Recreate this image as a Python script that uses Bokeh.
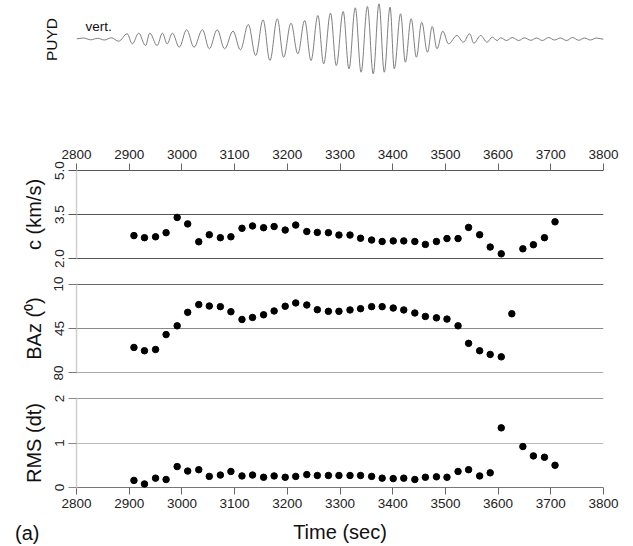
import numpy as np
from bokeh.plotting import figure
from bokeh.layouts import column
from bokeh.models import Range1d, FixedTicker, Label, PrintfTickFormatter
from bokeh.embed import file_html
from bokeh.resources import INLINE

# ---------------- data ----------------
nan = float("nan")

times = [2909, 2929, 2950, 2970, 2991, 3011, 3032, 3052, 3073, 3093,
         3114, 3134, 3155, 3175, 3196, 3216, 3237, 3257, 3278, 3298,
         3319, 3339, 3360, 3380, 3401, 3421, 3442, 3462, 3483, 3503,
         3524, 3544, 3565, 3585, 3606, 3626, 3647, 3667, 3688, 3708]

c_kms = [2.78, 2.71, 2.74, 2.88, 3.40, 3.18, 2.57, 2.81, 2.71, 2.74,
         3.03, 3.11, 3.05, 3.09, 2.97, 3.14, 2.92, 2.89, 2.88, 2.80,
         2.80, 2.69, 2.63, 2.58, 2.60, 2.60, 2.58, 2.48, 2.58, 2.68,
         2.68, 3.06, 2.81, 2.39, 2.16, nan, 2.33, 2.47, 2.71, 3.25]

baz_deg = [59.9, 62.5, 61.5, 49.8, 42.9, 32.3, 26.2, 27.3, 27.8, 31.8,
           37.9, 36.3, 34.2, 31.2, 27.5, 24.9, 26.5, 30.2, 31.5, 31.5,
           30.4, 29.4, 27.8, 27.8, 28.9, 30.4, 32.8, 35.5, 36.6, 37.6,
           42.9, 56.7, 62.5, 65.4, 67.3, 33.4, nan, nan, nan, nan]

rms_dt = [0.16, 0.08, 0.21, 0.18, 0.47, 0.37, 0.40, 0.25, 0.28, 0.36,
          0.26, 0.28, 0.23, 0.26, 0.23, 0.25, 0.29, 0.27, 0.27, 0.27,
          0.27, 0.27, 0.25, 0.21, 0.20, 0.21, 0.18, 0.23, 0.24, 0.23,
          0.36, 0.40, 0.26, 0.33, 1.34, nan, 0.92, 0.71, 0.68, 0.50]

# seismogram (PUYD, vertical): successive extrema (time, amplitude)
wave_t = [2800, 2813, 2827, 2840, 2853, 2866, 2880, 2896, 2906, 2918,
          2931, 2939, 2953, 2963, 2972, 2982, 2995, 3009, 3023, 3039,
          3052, 3067, 3081, 3097, 3111, 3126, 3140, 3154, 3167, 3181,
          3193, 3207, 3220, 3233, 3245, 3258, 3269, 3282, 3293, 3306,
          3317, 3329, 3340, 3352, 3363, 3374, 3384, 3395, 3403, 3415,
          3424, 3435, 3445, 3455, 3466, 3475, 3484, 3495, 3506, 3522,
          3534, 3546, 3554, 3567, 3579, 3589, 3598, 3605, 3616, 3627,
          3639, 3650, 3662, 3673, 3684, 3696, 3707, 3718, 3730, 3741,
          3753, 3764, 3775, 3787, 3800]
wave_a = [0.2, 1.0, -0.8, 0.7, -1.0, 1.2, -2.2, 5.2, -4.8, 5.8,
          -6.5, 5.8, -6.5, 5.8, -4.8, 5.8, -8.2, 9.2, -8.2, 9.2,
          -9.8, 9.2, -9.8, 7.8, -10.8, 14.5, -16.5, 19.2, -21.5, 20.2,
          -18.2, 15.8, -14.8, 18.5, -21.5, 23.5, -24.8, 25.8, -26.5, 27.5,
          -29.8, 31.2, -33.2, 32.5, -34.8, 35.2, -33.2, 31.8, -29.8, 25.2,
          -23.2, 20.2, -18.2, 16.8, -13.2, 12.5, -9.8, 7.8, -4.8, 3.5,
          -3.2, 5.2, -4.2, 3.5, -3.2, 1.8, -1.5, 1.2, -1.5, 1.5,
          -1.5, 1.2, -1.3, 1.0, -1.5, 1.5, -1.0, 1.0, -1.5, 1.5,
          -1.3, 1.0, -1.0, 1.0, -0.3]

x_ticks = [2800, 2900, 3000, 3100, 3200, 3300, 3400, 3500, 3600, 3700, 3800]
c_ticks = [2.0, 3.5, 5.0]
baz_ticks = [10, 45, 80]
rms_ticks = [0, 1, 2]

c_line_colors = ["#555555", "#555555", "#555555"]
baz_line_colors = ["#666666", "#8a8a8a", "#aaaaaa"]
rms_line_colors = ["#777777", "#bbbbbb", "#999999"]

# ---------------- styling ----------------
FONT = "Liberation Sans"
W = 633
LEFT = 76
RIGHT = 30
FRAME_W = W - LEFT - RIGHT
TICK_FS = "13.5px"
TITLE_FS = "20px"


def base(height, top, bottom, y_range, **kw):
    p = figure(width=W, height=height, x_range=Range1d(2800, 3800),
               y_range=y_range, output_backend="svg", toolbar_location=None,
               min_border_left=LEFT, min_border_right=RIGHT,
               min_border_top=top, min_border_bottom=bottom, **kw)
    p.outline_line_color = None
    p.background_fill_color = "white"
    p.border_fill_color = "white"
    for g in p.grid:
        g.visible = False
    return p


def bare_left_axis(p, text, size, standoff):
    ax = p.yaxis[0]
    ax.ticker = FixedTicker(ticks=[])
    ax.major_tick_out = 0
    ax.major_tick_in = 0
    ax.minor_tick_out = 0
    ax.minor_tick_in = 0
    ax.major_label_standoff = 0
    ax.axis_line_color = None
    ax.axis_label = text
    ax.axis_label_text_font = FONT
    ax.axis_label_text_font_size = size
    ax.axis_label_text_font_style = "normal"
    ax.axis_label_text_color = "#111111"
    ax.axis_label_standoff = standoff
    return ax


def style_y(p, ticks, title, tick_color):
    ax = p.yaxis[0]
    ax.ticker = FixedTicker(ticks=ticks)
    ax.major_label_orientation = "vertical"
    ax.major_label_text_font = FONT
    ax.major_label_text_font_size = TICK_FS
    ax.major_label_text_color = "#222222"
    ax.major_label_standoff = 5
    ax.major_tick_out = 8
    ax.major_tick_in = 0
    ax.minor_tick_out = 0
    ax.minor_tick_in = 0
    ax.major_tick_line_color = tick_color
    ax.axis_line_color = "#cfcfcf"
    ax.axis_line_width = 1.5
    ax.axis_label = title
    ax.axis_label_text_font = FONT
    ax.axis_label_text_font_size = TITLE_FS
    ax.axis_label_text_font_style = "normal"
    ax.axis_label_text_color = "#111111"
    ax.axis_label_standoff = 7


def style_x(ax):
    ax.ticker = FixedTicker(ticks=x_ticks)
    ax.major_label_text_font = FONT
    ax.major_label_text_font_size = TICK_FS
    ax.major_label_text_color = "#222222"
    ax.major_tick_out = 6
    ax.major_tick_in = 1
    ax.minor_tick_out = 0
    ax.minor_tick_in = 0
    ax.major_tick_line_color = "#666666"
    ax.axis_line_color = None


# ---------------- seismogram ----------------
pw = base(100, 0, 22, Range1d(-39.5, 38.5), x_axis_location=None)
bare_left_axis(pw, "PUYD", "15.5px", 17)
t = np.array(wave_t, dtype=float)
a = np.array(wave_a, dtype=float)
k = 0.3642
dx = t[1:] - t[:-1]
pw.bezier(x0=t[:-1], y0=a[:-1], x1=t[1:], y1=a[1:],
          cx0=t[:-1] + k * dx, cy0=a[:-1], cx1=t[1:] - k * dx, cy1=a[1:],
          line_color="#707070", line_width=0.9)
pw.add_layout(Label(x=9, y=52.5, x_units="screen", y_units="screen", text="vert.",
                    text_align="left", text_baseline="alphabetic",
                    text_font=FONT, text_font_size="13.5px", text_color="#111111"))

# ---------------- c panel ----------------
cpad = 3.0 / 88
pc = base(171, 69, 12, Range1d(2.0 - cpad, 5.0 + cpad), x_axis_location="above")
style_y(pc, c_ticks, "c (km/s)", "#555555")
pc.yaxis[0].formatter = PrintfTickFormatter(format="%.1f")
style_x(pc.xaxis[0])
pc.xaxis[0].major_label_standoff = 5
pc.hspan(y=c_ticks, line_color=c_line_colors, line_width=1)
pc.scatter(times, c_kms, size=6.5, color="black")

# ---------------- BAz panel ----------------
bpad = 35.0 / 88
pb = base(114, 12, 12, Range1d(80 + bpad, 10 - bpad), x_axis_location=None)
style_y(pb, baz_ticks, "BAz (\u2070)", "#777777")
pb.hspan(y=baz_ticks, line_color=baz_line_colors, line_width=1)
pb.scatter(times, baz_deg, size=6.5, color="black")

# ---------------- RMS panel ----------------
rpad = 2.0 / 89
pr = base(133, 12, 30, Range1d(0 - rpad, 2 + rpad))
style_y(pr, rms_ticks, "RMS (dt)", "#888888")
style_x(pr.xaxis[0])
pr.xaxis[0].major_label_standoff = 4
pr.hspan(y=rms_ticks, line_color=rms_line_colors, line_width=1)
pr.scatter(times, rms_dt, size=6.5, color="black")

# ---------------- caption row: "(a)" and the time-axis title ----------------
pt = base(28, 0, 0, Range1d(0, 1), x_axis_location=None)
ax_a = bare_left_axis(pt, "(a)", "20px", 37)
ax_a.axis_label_orientation = "horizontal"
pt.add_layout(Label(x=FRAME_W / 2, y=15, x_units="screen", y_units="screen",
                    text="Time (sec)", text_align="center", text_baseline="middle",
                    text_font=FONT, text_font_size="20px", text_color="#111111"))

layout = column(pw, pc, pb, pr, pt, spacing=0)
open("out.html", "w").write(file_html(layout, INLINE))
